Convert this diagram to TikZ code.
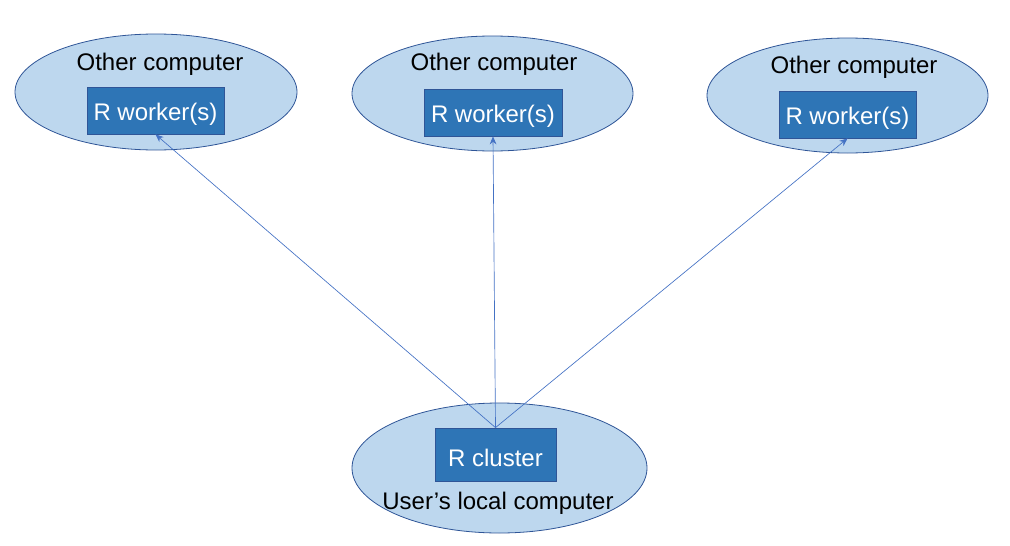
\documentclass[tikz,border=0pt]{standalone}
\usepackage{fontspec}
\setmainfont{Liberation Sans}
\usetikzlibrary{shapes.geometric,arrows.meta}
\definecolor{ellfill}{HTML}{BDD7EE}
\definecolor{ellline}{HTML}{2F5597}
\definecolor{boxfill}{HTML}{2E75B6}
\definecolor{arrowc}{HTML}{4472C4}
\newcommand{\lowtxt}[1]{\raisebox{-2.5pt}[\height][\depth]{#1}}
\begin{document}
\begin{tikzpicture}[x=0.75pt,y=-0.75pt,
  comp/.style={ellipse,draw=ellline,fill=ellfill,line width=0.6pt,inner sep=0pt},
  rbox/.style={rectangle,draw=ellline,fill=boxfill,line width=0.6pt,text=white,font=\fontsize{18}{21}\selectfont,inner sep=0pt},
  lbl/.style={font=\fontsize{18}{21}\selectfont,text=black,inner sep=0pt},
  link/.style={draw=arrowc,line width=0.5pt,-{Stealth[length=6pt,width=5pt]}}]
\useasboundingbox (0,0) rectangle (1010,546);
% ellipses
\node[comp,minimum width=211.5pt,minimum height=87pt] (e1) at (156,92) {};
\node[comp,minimum width=210.75pt,minimum height=86.25pt] (e2) at (492.5,93.5) {};
\node[comp,minimum width=210.75pt,minimum height=86.25pt] (e3) at (847.5,95.5) {};
\node[comp,minimum width=221.25pt,minimum height=97.5pt] (e4) at (499.5,468) {};
% boxes
\node[rbox,minimum width=102.75pt,minimum height=35.25pt] (b1) at (155.5,110.5) {\lowtxt{R worker(s)}};
\node[rbox,minimum width=103.5pt,minimum height=35.25pt] (b2) at (493,112.5) {\lowtxt{R worker(s)}};
\node[rbox,minimum width=102.75pt,minimum height=35.25pt] (b3) at (847.5,114.5) {\lowtxt{R worker(s)}};
\node[rbox,minimum width=90.75pt,minimum height=39.75pt] (b4) at (495.5,454.5) {\lowtxt{R cluster}};
% labels
\node[lbl] (t1) at (160,64) {Other computer};
\node[lbl] (t2) at (494,64) {Other computer};
\node[lbl] (t3) at (854,67) {Other computer};
\node[lbl] (t4) at (498,503) {User’s local computer};
% connectors
\draw[link] (b4.north) -- (b1.south);
\draw[link] (b4.north) -- (b2.south);
\draw[link] (b4.north) -- (b3.south);
\end{tikzpicture}
\end{document}
